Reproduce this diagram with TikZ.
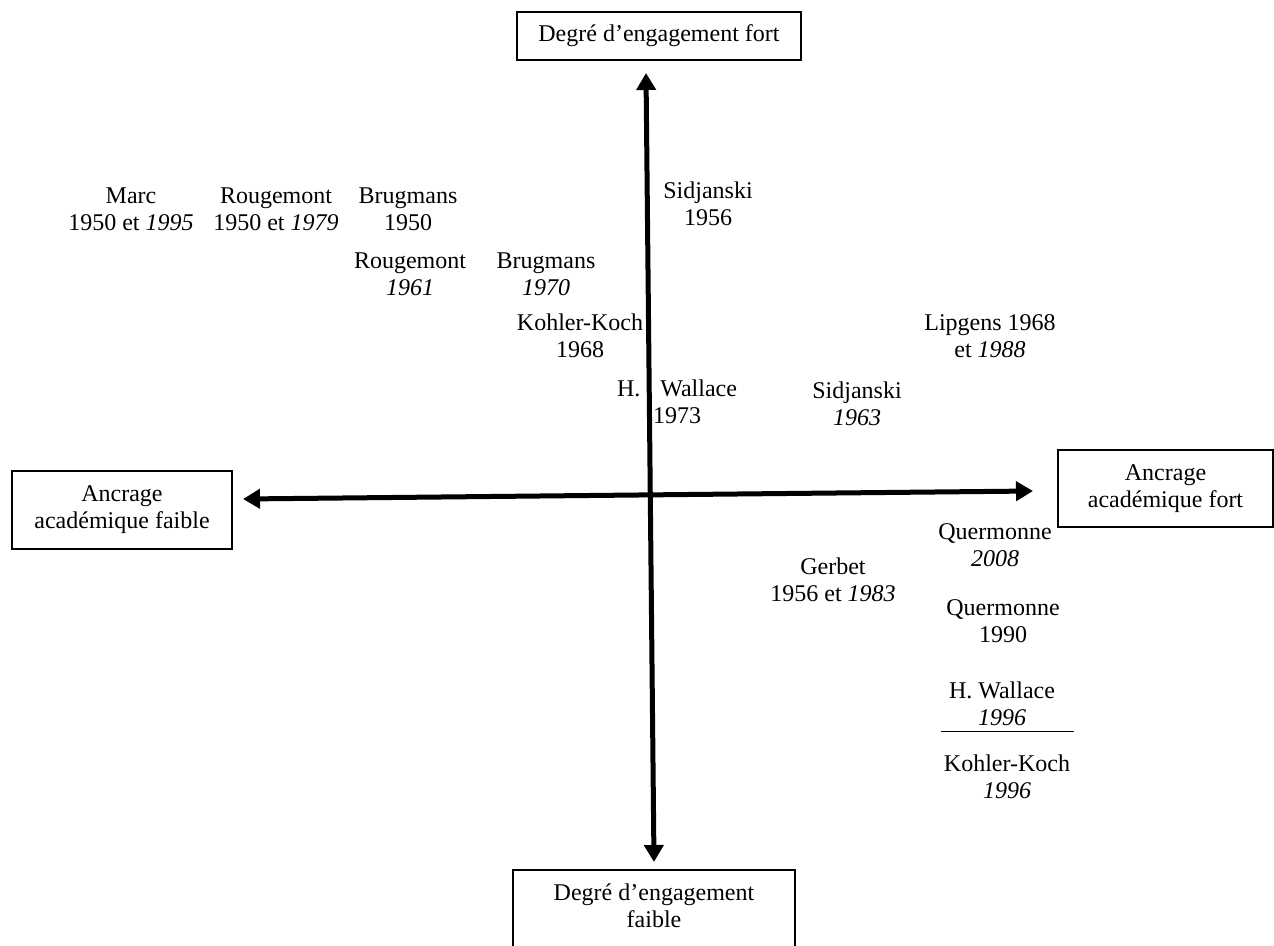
\documentclass[tikz,border=0pt]{standalone}
\usepackage{fontspec}
\setmainfont{Liberation Serif}
\usetikzlibrary{arrows.meta}
\begin{document}
\begin{tikzpicture}[x=1pt,y=-1pt,
  lbl/.style={align=center,font=\fontsize{24}{27}\selectfont,inner sep=0pt},
  boxnode/.style={lbl,draw,line width=1.3pt},
  axisline/.style={line width=5pt,{Triangle[length=17pt,width=19pt]}-{Triangle[length=17pt,width=19pt]}},
  sepline/.style={line width=1pt}]
\useasboundingbox (0,0) rectangle (1274,945);
% boxes
\node[boxnode,minimum width=284pt,minimum height=48pt] (top) at (659,36) {Degré d’engagement fort};
\node[boxnode,minimum width=215pt,minimum height=77pt] (right) at (1165.5,488.5) {Ancrage\\académique fort};
\node[boxnode,minimum width=220pt,minimum height=78pt] (left) at (122,510) {Ancrage\\académique faible};
\node[lbl] (bottom) at (654,906) {Degré d’engagement\\faible};
\coordinate (bl) at (513,870);
\coordinate (br) at (795,965);
\draw[line width=1.3pt] (bl) rectangle (br);
% axes
\coordinate (vt) at (646,73);
\coordinate (vb) at (654,862);
\coordinate (hl) at (243,499);
\coordinate (hr) at (1033,491);
\draw[axisline] (vb) -- (vt);
\draw[axisline] (hl) -- (hr);
% labels
\node[lbl] (marc) at (131,209.5) {Marc\\1950 et \textit{1995}};
\node[lbl] (roug1) at (276,209.5) {Rougemont\\1950 et \textit{1979}};
\node[lbl] (brug1) at (408,209.5) {Brugmans\\1950};
\node[lbl] (roug2) at (410,274.5) {Rougemont\\\textit{1961}};
\node[lbl] (brug2) at (546,274.5) {Brugmans\\\textit{1970}};
\node[lbl] (sidj1) at (708,203.5) {Sidjanski\\1956};
\node[lbl] (kohl1) at (580,336) {Kohler-Koch\\1968};
\node[lbl] (wall1) at (677,401.5) {H.\hspace{20pt}Wallace\\1973};
\node[lbl] (lipg) at (990,336.5) {Lipgens 1968\\et \textit{1988}};
\node[lbl] (sidj2) at (857,403.5) {Sidjanski\\\textit{1963}};
\node[lbl] (gerb) at (833,580) {Gerbet\\1956 et \textit{1983}};
\node[lbl] (querm1) at (995,545.5) {Quermonne\\\textit{2008}};
\node[lbl] (querm2) at (1003,621.5) {Quermonne\\1990};
\node[lbl] (wall2) at (1002,703.5) {H. Wallace\\\textit{1996}};
\node[lbl] (kohl2) at (1007,776.5) {Kohler-Koch\\\textit{1996}};
\coordinate (s1) at (941,731);
\coordinate (s2) at (1074,731);
\draw[sepline] (s1) -- (s2);
\end{tikzpicture}
\end{document}
